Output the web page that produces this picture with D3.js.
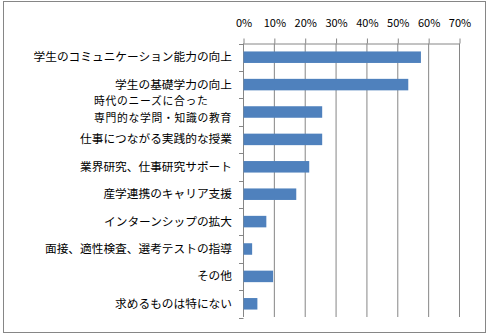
<!DOCTYPE html>
<html><head><meta charset="utf-8">
<script src="https://cdn.jsdelivr.net/npm/d3@7"></script>
<style>
html,body{margin:0;padding:0;background:#fff;}
svg{display:block;}
</style>
</head><body>
<svg id="c" width="490" height="334"></svg>
<script>
const categories = [
  "学生のコミュニケーション能力の向上",
  "学生の基礎学力の向上",
  "時代のニーズに合った|専門的な学問・知識の教育",
  "仕事につながる実践的な授業",
  "業界研究、仕事研究サポート",
  "産学連携のキャリア支援",
  "インターンシップの拡大",
  "面接、適性検査、選考テストの指導",
  "その他",
  "求めるものは特にない"
];
const values = [57.5, 53.4, 25.5, 25.5, 21.3, 17.1, 7.4, 2.8, 9.6, 4.5];
const tickValues = [0, 10, 20, 30, 40, 50, 60, 70];
const tickLabels = ["0%", "10%", "20%", "30%", "40%", "50%", "60%", "70%"];

const svg = d3.select("#c");
const gray = "#868686";
const font = "'Noto Sans CJK JP', sans-serif";

svg.append("rect").attr("x", 3.5).attr("y", 1.5).attr("width", 482).attr("height", 331)
  .attr("fill", "#fff").attr("stroke", gray).attr("stroke-width", 1);

const x = d3.scaleLinear().domain([0, 70]).range([243.5, 459.5]);
const pad = 0.58;
const y = d3.scaleBand().domain(categories).range([43.5, 317.5]).paddingInner(pad).paddingOuter(pad / 2);
const step = y.step();

// grid lines
svg.append("g").selectAll("line").data(tickValues).join("line")
  .attr("x1", d => x(d)).attr("x2", d => x(d))
  .attr("y1", 43.5).attr("y2", 317)
  .attr("stroke", gray).attr("stroke-width", 1);

// top axis
const ax = svg.append("g").attr("transform", "translate(0,43.5)")
  .call(d3.axisTop(x).tickValues(tickValues).tickFormat((d, i) => tickLabels[i]).tickSize(5).tickSizeOuter(0).tickPadding(12));
ax.select(".domain").attr("stroke", gray);
ax.selectAll(".tick line").attr("stroke", gray);
ax.selectAll(".tick text").attr("font-family", font).attr("font-size", "11px").attr("fill", "#000");

// left axis (band boundary ticks)
const bounds = categories.map(c => y(c) - step * pad / 2).concat([y(categories[categories.length - 1]) + y.bandwidth() + step * pad / 2]);
svg.append("line").attr("x1", 243.5).attr("x2", 243.5).attr("y1", 43.5).attr("y2", 317).attr("stroke", gray);
svg.append("g").selectAll("line").data(bounds).join("line")
  .attr("x1", 239).attr("x2", 243.5)
  .attr("y1", d => Math.round(d) + 0.5).attr("y2", d => Math.round(d) + 0.5)
  .attr("stroke", gray);

// bars
svg.append("g").selectAll("rect").data(categories).join("rect")
  .attr("x", x(0)).attr("y", d => y(d))
  .attr("width", (d, i) => x(values[i]) - x(0))
  .attr("height", y.bandwidth())
  .attr("fill", "#4F81BD");

// category labels
const lg = svg.append("g");
categories.forEach(c => {
  const cy = y(c) + y.bandwidth() / 2;
  const lines = c.split("|");
  if (lines.length === 1) {
    lg.append("text").attr("x", 232).attr("y", cy).attr("dy", "0.35em")
      .attr("text-anchor", "end").attr("font-family", font).attr("font-size", "11.7px")
      .attr("fill", "#000").text(c);
  } else {
    const t2 = lg.append("text").attr("x", 232).attr("y", cy + 6).attr("dy", "0.35em")
      .attr("text-anchor", "end").attr("font-family", font).attr("font-size", "10.8px")
      .attr("letter-spacing", "0.7px")
      .attr("fill", "#000").text(lines[1]);
    const w = t2.node().getComputedTextLength();
    lg.append("text").attr("x", 232 - w).attr("y", cy - 10.5).attr("dy", "0.35em")
      .attr("text-anchor", "start").attr("font-family", font).attr("font-size", "10.8px")
      .attr("letter-spacing", "0.7px")
      .attr("fill", "#000").text(lines[0]);
  }
});
</script>
</body></html>
